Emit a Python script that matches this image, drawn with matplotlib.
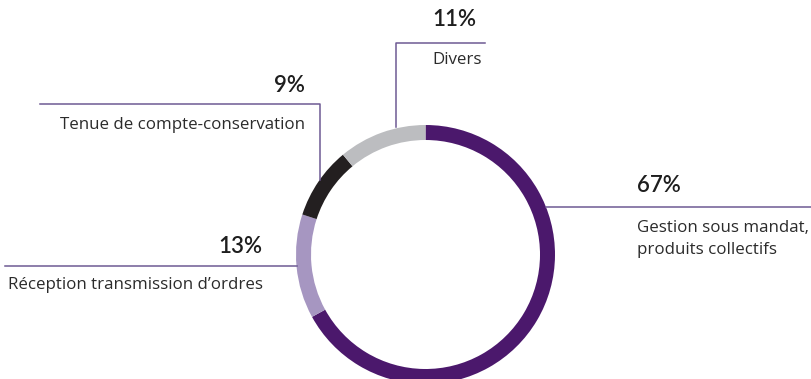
import numpy as np
import matplotlib.pyplot as plt

plt.rcParams['font.family'] = ['Open Sans', 'DejaVu Sans']

# data
labels = ['Gestion sous mandat,\nproduits collectifs', 'Réception transmission d\u2019ordres',
          'Tenue de compte-conservation', 'Divers']
values = [67, 13, 9, 11]
pct_labels = ['67%', '13%', '9%', '11%']
colors = ['#4b186c', '#a696c1', '#231f20', '#bcbdc0']

W, H = 812, 379
line_col = '#6e5a93'
txt_col = '#2b2b2b'


def py(y):
    # pixel row (from top) -> data y
    return H - y


def main():
    fig = plt.figure(figsize=(W / 100, H / 100), dpi=100)
    ax = fig.add_axes([0, 0, 1, 1])
    ax.pie(values, colors=colors, startangle=90, counterclock=False,
           radius=129.5, center=(425.5, py(254.5)),
           wedgeprops=dict(width=15, linewidth=0))
    ax.set_xlim(0, W)
    ax.set_ylim(0, H)
    ax.set_aspect('equal')
    ax.axis('off')

    # leader lines
    ax.plot([546, W], [py(206.5), py(206.5)], color=line_col, lw=1.1)
    ax.plot([396, 396, 485], [py(127), py(43), py(43)], color=line_col, lw=1.1)
    ax.plot([40, 320, 320], [py(104), py(104), py(180)], color=line_col, lw=1.1)
    ax.plot([5, 297], [py(266), py(266)], color=line_col, lw=1.1)

    pct_kw = dict(fontsize=16, fontweight='semibold', color='#1e1e1e', va='center',
                  family=['Lato', 'DejaVu Sans'])
    lab_kw = dict(fontsize=12.2, color=txt_col, va='center')

    # 67%
    ax.text(637, py(186), pct_labels[0], ha='left', **pct_kw)
    ax.text(637, py(239), labels[0], ha='left', linespacing=1.45, **lab_kw)
    # 13%
    ax.text(262, py(247), pct_labels[1], ha='right', **pct_kw)
    ax.text(8, py(285), labels[1], ha='left', **lab_kw)
    # 9%
    ax.text(305, py(86), pct_labels[2], ha='right', **pct_kw)
    ax.text(305, py(125), labels[2], ha='right', **lab_kw)
    # 11%
    ax.text(432, py(20), pct_labels[3], ha='left', **pct_kw)
    ax.text(432, py(60), labels[3], ha='left', **lab_kw)

    fig.savefig('out.png', dpi=100)


if __name__ == "__main__":
    main()
